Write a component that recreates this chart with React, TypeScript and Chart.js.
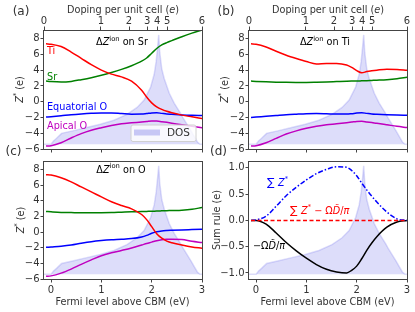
import React, { useEffect, useRef } from "react";
import { Chart, registerables } from "chart.js";
Chart.register(...registerables);

const W = 415, H = 312;
const FAM = '"DejaVu Sans", sans-serif';
const TXT = "#333333";
const AX = "#444444";
const RED = "#ff0000", GREEN = "#008000", BLUE = "#0000ff", MAG = "#bf00bf";
const DOS_FILL = "rgba(100,100,230,0.22)";
const DOS_EDGE = "rgba(100,100,230,0.22)";

// ---------- data ----------
const E_MIN = -0.14, E_MAX = 3.0;
const E = [-0.1, 0, 0.2, 0.4, 0.6, 0.8, 1.0, 1.2, 1.4, 1.6, 1.8, 1.9, 2.0, 2.1, 2.2, 2.3, 2.4, 2.6, 2.8, 3.0];

const FERMI_TICKS = [0, 1, 2, 3];
const DOPING_LABELS = ["0", "1", "2", "3", "4", "5", "6"];
const DOPING_AT_E = [-0.14, 0.99, 1.55, 1.91, 2.11, 2.31, 3.0];
const Z_TICKS = [-6, -4, -2, 0, 2, 4, 6, 8];
const SUM_TICKS = [-1, -0.5, 0, 0.5, 1];

const DOS_E = [-0.14, 0, 0.05, 0.11, 0.21, 0.45, 0.71, 0.98, 1.25, 1.51, 1.71, 1.85, 1.98, 2.05, 2.09, 2.12, 2.14, 2.16, 2.2, 2.25, 2.35, 2.45, 2.58, 2.63, 2.78, 2.91, 2.96, 3.0];
const DOS = [0, 0, 0.03, 0.055, 0.1, 0.125, 0.154, 0.183, 0.22, 0.274, 0.337, 0.404, 0.524, 0.64, 0.76, 0.9, 1.0, 0.84, 0.69, 0.6, 0.466, 0.375, 0.279, 0.236, 0.125, 0.02, 0, 0];
const DOS_MIN = -0.043, DOS_MAX = 1.045;

// (a) ΔZ on Sr
const SR_TI = [7.35, 7.3, 7.0, 6.3, 5.5, 4.7, 4.0, 3.5, 3.15, 2.6, 1.45, 0.6, -0.15, -0.65, -0.98, -1.22, -1.4, -1.7, -1.92, -2.13];
const SR_SR = [2.62, 2.56, 2.5, 2.58, 2.8, 3.05, 3.35, 3.7, 4.1, 4.57, 5.15, 5.55, 6.15, 6.75, 7.2, 7.5, 7.75, 8.25, 8.7, 9.1];
const SR_EQ = [-1.95, -1.9, -1.78, -1.65, -1.55, -1.47, -1.42, -1.42, -1.5, -1.58, -1.57, -1.5, -1.42, -1.4, -1.48, -1.56, -1.6, -1.68, -1.73, -1.75];
const SR_AP = [-5.63, -5.58, -5.2, -4.6, -4.05, -3.62, -3.3, -3.02, -2.8, -2.68, -2.58, -2.52, -2.45, -2.45, -2.53, -2.62, -2.72, -2.93, -3.12, -3.3];
// (b) ΔZ on Ti
const TI_TI = [7.35, 7.3, 6.95, 6.4, 5.9, 5.48, 5.1, 4.8, 4.85, 4.85, 4.65, 4.35, 3.95, 3.68, 3.82, 3.92, 4.0, 4.12, 4.08, 3.98];
const TI_SR = [2.62, 2.58, 2.52, 2.48, 2.46, 2.45, 2.45, 2.47, 2.5, 2.55, 2.6, 2.62, 2.63, 2.65, 2.67, 2.7, 2.73, 2.8, 2.92, 3.1];
const TI_EQ = [-2.0, -1.95, -1.85, -1.75, -1.65, -1.58, -1.52, -1.5, -1.53, -1.57, -1.57, -1.52, -1.44, -1.4, -1.48, -1.56, -1.6, -1.66, -1.7, -1.72];
const TI_AP = [-5.63, -5.58, -5.2, -4.65, -4.1, -3.7, -3.38, -3.12, -2.92, -2.8, -2.66, -2.58, -2.5, -2.48, -2.56, -2.65, -2.73, -2.92, -3.12, -3.28];
// (c) ΔZ on O
const O_TI = [7.35, 7.3, 6.95, 6.43, 5.78, 5.15, 4.5, 3.88, 3.4, 2.98, 2.25, 1.6, 0.7, -0.2, -0.78, -1.15, -1.35, -1.65, -1.9, -2.06];
const O_SR = [2.65, 2.6, 2.52, 2.5, 2.48, 2.48, 2.48, 2.5, 2.55, 2.6, 2.63, 2.65, 2.67, 2.7, 2.72, 2.74, 2.76, 2.8, 2.92, 3.15];
const O_EQ = [-1.95, -1.9, -1.8, -1.65, -1.42, -1.22, -1.08, -0.98, -0.92, -0.83, -0.62, -0.42, -0.15, 0.05, 0.15, 0.2, 0.23, 0.28, 0.32, 0.36];
const O_AP = [-5.66, -5.6, -5.25, -4.73, -4.12, -3.55, -3.02, -2.65, -2.35, -2.03, -1.65, -1.45, -1.28, -1.1, -0.98, -0.92, -0.9, -0.93, -1.18, -1.33];
// (d) sum rule
const SUM_Z = [0, 0.01, 0.08, 0.27, 0.47, 0.63, 0.77, 0.89, 0.97, 1.02, 1.01, 0.95, 0.85, 0.71, 0.58, 0.46, 0.35, 0.16, 0.03, 0.0];
const SUM_D = [0, 0, -0.07, -0.24, -0.42, -0.58, -0.72, -0.84, -0.93, -0.98, -1.0, -0.95, -0.87, -0.73, -0.57, -0.43, -0.31, -0.13, -0.03, 0];
const SUM_TOTAL = [0, 0, 0, 0, 0, 0, 0, 0, 0, 0, 0, 0, 0, 0, 0, 0, 0, 0, 0, 0];

// ---------- rich text ----------
type Seg = { t: string; it?: boolean; sup?: boolean; sc?: number };
function segFont(s: Seg, size: number) {
  let sz = s.sup ? size * 0.7 : size;
  if (s.sc) sz *= s.sc;
  return `${s.it ? "italic " : ""}${sz}px ${FAM}`;
}
function drawRich(ctx: CanvasRenderingContext2D, segs: Seg[], x: number, y: number, size: number, color: string, align: "left" | "center" = "left", rot = 0) {
  ctx.save();
  ctx.translate(x, y);
  ctx.rotate(rot);
  let w = 0;
  for (const s of segs) { ctx.font = segFont(s, size); w += ctx.measureText(s.t).width; }
  let cx = align === "center" ? -w / 2 : 0;
  ctx.fillStyle = color;
  ctx.textBaseline = "middle";
  ctx.textAlign = "left";
  for (const s of segs) {
    ctx.font = segFont(s, size);
    ctx.fillText(s.t, cx, s.sup ? -size * 0.38 : 0);
    cx += ctx.measureText(s.t).width;
  }
  ctx.restore();
}

const S = 9.7;
const zTitle = (on: string): Seg[] => [{ t: "Δ" }, { t: "Z", it: true }, { t: "ion", sup: true }, { t: " on " + on }];
const zLabel: Seg[] = [{ t: "Z", it: true }, { t: "*", sup: true }, { t: " (e)" }];
const dopingLabel: Seg[] = [{ t: "Doping per unit cell (" }, { t: "e", it: true }, { t: ")" }];
const fermiLabel: Seg[] = [{ t: "Fermi level above CBM (eV)" }];

// ---------- datasets ----------
const line = (ys: number[], color: string, dash?: number[]) => ({
  type: "line",
  data: E.map((x, i) => ({ x, y: ys[i] })),
  borderColor: color,
  borderWidth: 1.5,
  borderDash: dash || [],
  pointRadius: 0,
  cubicInterpolationMode: "monotone",
  fill: false,
  xAxisID: "x",
  yAxisID: "y",
});
const dosSet = () => ({
  type: "line",
  data: DOS_E.map((x, i) => ({ x, y: DOS[i] })),
  borderColor: DOS_EDGE,
  backgroundColor: DOS_FILL,
  borderWidth: 1.5,
  pointRadius: 0,
  tension: 0,
  fill: { value: 0 },
  xAxisID: "x",
  yAxisID: "yd",
});

const zfmt = (v: number) => (v < 0 ? "−" : "") + Math.abs(v);
const sfmt = (v: number) => (v < 0 ? "−" : "") + Math.abs(v).toFixed(1);

type Panel = {
  l: number; r: number; t: number; b: number;
  ymin: number; ymax: number; yticks: number[]; yfmt: (v: number) => string;
  top: boolean; bottomLabels: boolean; sets: any[];
  draw: (ctx: CanvasRenderingContext2D) => void;
  legend?: boolean;
};

const PANELS: Panel[] = [
  {
    l: 44, r: 202, t: 30, b: 149, ymin: -6, ymax: 9.1, yticks: Z_TICKS, yfmt: zfmt, top: true, bottomLabels: false, legend: true,
    sets: [line(SR_TI, RED), line(SR_SR, GREEN), line(SR_EQ, BLUE), line(SR_AP, MAG), dosSet()],
    draw: (ctx) => {
      drawRich(ctx, [{ t: "(a)" }], 21, 12, 12, TXT, "center");
      drawRich(ctx, dopingLabel, 123, 10, S, TXT, "center");
      drawRich(ctx, zLabel, 20, 89.5, S, TXT, "center", -Math.PI / 2);
      drawRich(ctx, zTitle("Sr"), 122, 42.5, S, "#000", "center");
      drawRich(ctx, [{ t: "Ti" }], 47, 51, S, RED);
      drawRich(ctx, [{ t: "Sr" }], 47, 77.5, S, GREEN);
      drawRich(ctx, [{ t: "Equatorial O" }], 47, 107, S, BLUE);
      drawRich(ctx, [{ t: "Apical O" }], 47, 126.5, S, MAG);
    },
  },
  {
    l: 249, r: 407, t: 30, b: 149, ymin: -6, ymax: 9.1, yticks: Z_TICKS, yfmt: zfmt, top: true, bottomLabels: false,
    sets: [line(TI_TI, RED), line(TI_SR, GREEN), line(TI_EQ, BLUE), line(TI_AP, MAG), dosSet()],
    draw: (ctx) => {
      drawRich(ctx, [{ t: "(b)" }], 226, 12, 12, TXT, "center");
      drawRich(ctx, dopingLabel, 328, 10, S, TXT, "center");
      drawRich(ctx, zLabel, 225, 89.5, S, TXT, "center", -Math.PI / 2);
      drawRich(ctx, zTitle("Ti"), 325, 42.5, S, "#000", "center");
    },
  },
  {
    l: 44, r: 202, t: 161, b: 279, ymin: -6, ymax: 9.1, yticks: Z_TICKS, yfmt: zfmt, top: false, bottomLabels: true,
    sets: [line(O_TI, RED), line(O_SR, GREEN), line(O_EQ, BLUE), line(O_AP, MAG), dosSet()],
    draw: (ctx) => {
      drawRich(ctx, [{ t: "(c)" }], 13.5, 152, 12, TXT, "center");
      drawRich(ctx, zLabel, 21, 220, S, TXT, "center", -Math.PI / 2);
      drawRich(ctx, zTitle("O"), 121, 170, S, "#000", "center");
      drawRich(ctx, fermiLabel, 122.5, 302, S, TXT, "center");
    },
  },
  {
    l: 249, r: 407, t: 161, b: 279, ymin: -1.115, ymax: 1.13, yticks: SUM_TICKS, yfmt: sfmt, top: false, bottomLabels: true,
    sets: [line(SUM_TOTAL, RED, [4, 2.5]), line(SUM_Z, BLUE, [5, 2, 1.5, 2]), line(SUM_D, "#000000"), dosSet()],
    draw: (ctx) => {
      drawRich(ctx, [{ t: "(d)" }], 218.5, 152, 12, TXT, "center");
      drawRich(ctx, [{ t: "Sum rule (e)" }], 217.5, 220, S, TXT, "center", -Math.PI / 2);
      drawRich(ctx, fermiLabel, 327.5, 302, S, TXT, "center");
      drawRich(ctx, [{ t: "∑ ", sc: 1.15 }, { t: "Z", it: true }, { t: "*", sup: true }], 267, 183, S, BLUE);
      drawRich(ctx, [{ t: "∑ ", sc: 1.15 }, { t: "Z", it: true }, { t: "*", sup: true }, { t: " − Ω" }, { t: "D\u0303", it: true }, { t: "/" }, { t: "π", it: true }], 290, 211, S, RED);
      drawRich(ctx, [{ t: "−Ω" }, { t: "D\u0303", it: true }, { t: "/" }, { t: "π", it: true }], 253, 246.5, S, "#000");
    },
  },
];

function buildChart(canvas: HTMLCanvasElement, p: Panel, idx: number) {
  const YW = 40, XT = p.top ? 24 : 0, XB = p.bottomLabels ? 20 : 8;
  const tickFont = { family: FAM, size: 10 };
  const grid = { drawOnChartArea: false, drawTicks: true, tickLength: 3.5, color: AX, tickColor: AX, lineWidth: 1, tickWidth: 1 };
  const scales: any = {
    x: {
      type: "linear", position: "bottom", min: E_MIN, max: E_MAX,
      afterBuildTicks: (s: any) => { s.ticks = FERMI_TICKS.map((v) => ({ value: v })); },
      afterFit: (s: any) => { s.height = XB; },
      ticks: { display: p.bottomLabels, font: tickFont, color: TXT, padding: 2, maxRotation: 0, autoSkip: false, callback: (v: any) => String(v) },
      grid, border: { display: false },
    },
    y: {
      type: "linear", position: "left", min: p.ymin, max: p.ymax,
      afterBuildTicks: (s: any) => { s.ticks = p.yticks.map((v) => ({ value: v })); },
      afterFit: (s: any) => { s.width = YW; },
      ticks: { font: tickFont, color: TXT, padding: 1, autoSkip: false, callback: (v: any) => p.yfmt(Number(v)) },
      grid, border: { display: false },
    },
    yd: { type: "linear", display: false, min: DOS_MIN, max: DOS_MAX },
  };
  if (p.top) {
    scales.xt = {
      type: "linear", position: "top", min: E_MIN, max: E_MAX,
      afterBuildTicks: (s: any) => { s.ticks = DOPING_AT_E.map((v) => ({ value: v })); },
      afterFit: (s: any) => { s.height = XT; },
      ticks: { font: tickFont, color: TXT, padding: -1, maxRotation: 0, autoSkip: false, callback: (_v: any, i: number) => DOPING_LABELS[i] },
      grid, border: { display: false },
    };
  }
  const deco = {
    id: "deco" + idx,
    afterDatasetsDraw(chart: any) {
      const ctx: CanvasRenderingContext2D = chart.ctx;
      const a = chart.chartArea;
      if (p.legend) {
        ctx.save();
        const bx = 131, by = 125, bw = 65, bh = 16.5, r = 2;
        ctx.beginPath();
        ctx.moveTo(bx + r, by);
        ctx.arcTo(bx + bw, by, bx + bw, by + bh, r);
        ctx.arcTo(bx + bw, by + bh, bx, by + bh, r);
        ctx.arcTo(bx, by + bh, bx, by, r);
        ctx.arcTo(bx, by, bx + bw, by, r);
        ctx.closePath();
        ctx.fillStyle = "rgba(255,255,255,0.8)";
        ctx.fill();
        ctx.strokeStyle = "#d0d0d0";
        ctx.lineWidth = 1;
        ctx.stroke();
        ctx.fillStyle = "rgba(110,110,230,0.35)";
        ctx.fillRect(134, 129.5, 26, 6);
        ctx.restore();
        drawRich(ctx, [{ t: "DOS" }], 167, 133, 10.5, TXT);
      }
      ctx.save();
      ctx.strokeStyle = AX;
      ctx.lineWidth = 1;
      ctx.strokeRect(Math.round(a.left) - 0.5, Math.round(a.top) + 0.5, Math.round(a.right - a.left) + 1, Math.round(a.bottom - a.top));
      ctx.restore();
      p.draw(ctx);
    },
  };
  return new Chart(canvas, {
    type: "line",
    data: { datasets: p.sets as any },
    options: {
      responsive: false,
      animation: false,
      events: [],
      layout: { padding: { left: p.l - YW, right: W - p.r, top: p.t - XT, bottom: H - p.b - XB } },
      plugins: { legend: { display: false }, tooltip: { enabled: false } },
      scales,
    } as any,
    plugins: [deco],
  });
}

export default function App() {
  const refs = useRef<(HTMLCanvasElement | null)[]>([]);
  useEffect(() => {
    const charts = PANELS.map((p, i) => buildChart(refs.current[i]!, p, i));
    return () => charts.forEach((c) => c.destroy());
  }, []);
  return (
    <div style={{ position: "fixed", left: 0, top: 0, width: W, height: H, background: "#fff" }}>
      {PANELS.map((_, i) => (
        <canvas
          key={i}
          ref={(el) => { refs.current[i] = el; }}
          width={W}
          height={H}
          style={{ position: "absolute", left: 0, top: 0 }}
        />
      ))}
    </div>
  );
}
